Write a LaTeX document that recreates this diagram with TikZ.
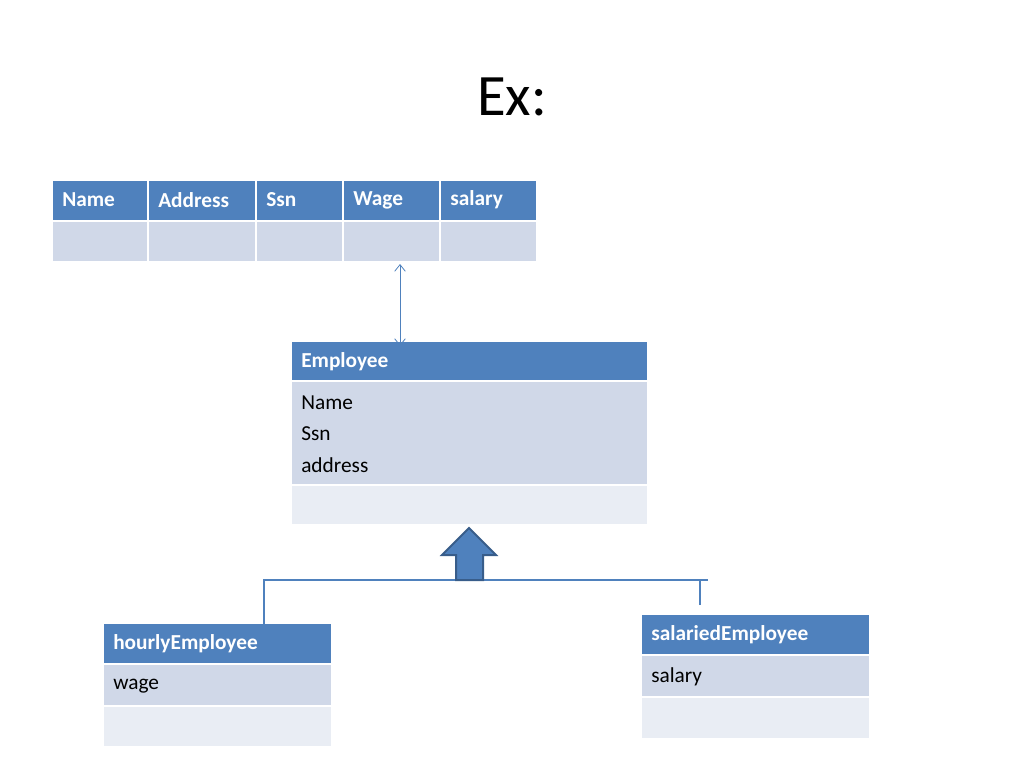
\documentclass[tikz,border=0pt]{standalone}
\usepackage{fontspec}
\setmainfont{Carlito}
\usetikzlibrary{arrows.meta}
\definecolor{hdr}{HTML}{4F81BD}
\definecolor{bodyc}{HTML}{D0D8E8}
\definecolor{foot}{HTML}{E9EDF4}
\definecolor{edge}{HTML}{385D8A}
\begin{document}
\begin{tikzpicture}[x=0.75pt,y=-0.75pt,
  lab/.style={font=\fontsize{16}{19}\selectfont,anchor=west,inner sep=0pt},
  hlab/.style={lab,text=white,font=\fontsize{16}{19}\selectfont\bfseries},
  link/.style={draw=hdr,line width=0.8pt}]
\useasboundingbox (0,0) rectangle (1024,768);
\node (title) at (512,97) {\fontsize{44}{50}\selectfont Ex:};
% table
\foreach \a/\b/\t [count=\i] in {52/148/Name,148/256/Address,256/343/Ssn,343/440/Wage,440/537/salary}{
  \path[fill=hdr,draw=white,line width=1.5pt] (\a,180) rectangle (\b,221);
  \path[fill=bodyc,draw=white,line width=1.5pt] (\a,221) rectangle (\b,262);
  \node[hlab] (t\i) at (\a+10,200) {\t};
}
\coordinate (tabbot) at (400,264);
% Employee
\path[fill=hdr,draw=white,line width=1.5pt] (291,341) rectangle (648,381);
\path[fill=bodyc,draw=white,line width=1.5pt] (291,381) rectangle (648,485);
\path[fill=foot,draw=white,line width=1.5pt] (291,485) rectangle (648,525);
\node[hlab] (emp) at (301,362) {Employee};
\node[lab] (e1) at (301,403) {Name};
\node[lab] (e2) at (301,434) {Ssn};
\node[lab] (e3) at (301,465) {address};
\coordinate (emptop) at (400,346);
\draw[hdr,line width=0.6pt,{Straight Barb[length=5pt,width=8pt]}-{Straight Barb[length=5pt,width=8pt]}] (tabbot) -- (emptop);
% hourly
\path[fill=hdr,draw=white,line width=1.5pt] (103,623) rectangle (332,664);
\path[fill=bodyc,draw=white,line width=1.5pt] (103,664) rectangle (332,706);
\path[fill=foot,draw=white,line width=1.5pt] (103,706) rectangle (332,747);
\node[hlab] (hr) at (113,644) {hourlyEmployee};
\node[lab] (w) at (113,686) {wage};
% salaried
\path[fill=hdr,draw=white,line width=1.5pt] (641,614) rectangle (870,655);
\path[fill=bodyc,draw=white,line width=1.5pt] (641,655) rectangle (870,697);
\path[fill=foot,draw=white,line width=1.5pt] (641,697) rectangle (870,739);
\node[hlab] (sa) at (651,635) {salariedEmployee};
\node[lab] (s) at (651,677) {salary};
% connectors
\coordinate (hl) at (264,624);
\coordinate (sr) at (700,605);
\draw[link] (hl) -- (264,580) -- (708,580);
\draw[link] (sr) -- (700,580);
% big arrow
\draw[fill=hdr,draw=edge,line width=1.5pt] (456,580) -- (456,555) -- (442,555) -- (469,528) -- (496,555) -- (483,555) -- (483,580) -- cycle;
\end{tikzpicture}
\end{document}
